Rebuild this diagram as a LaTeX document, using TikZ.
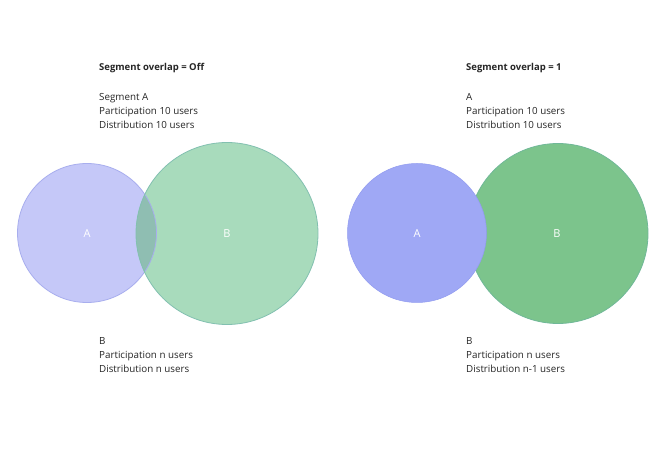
\documentclass[tikz,border=0pt]{standalone}
\usepackage{fontspec}
\setmainfont{Open Sans}
\begin{document}
\begin{tikzpicture}[x=1pt,y=-1pt,
  txt/.style={anchor=base west,inner sep=0pt,font=\fontsize{9.8}{14}\selectfont,text=black!85},
  ttl/.style={txt,font=\fontsize{9.5}{14}\selectfont\bfseries},
  lbl/.style={inner sep=0pt,font=\fontsize{11}{13}\selectfont,text=white}]
\definecolor{lAfill}{RGB}{197,200,248}
\definecolor{lAline}{RGB}{168,174,238}
\definecolor{lBfill}{RGB}{168,219,188}
\definecolor{lBline}{RGB}{130,192,176}
\definecolor{lOver}{RGB}{143,190,178}
\definecolor{rAfill}{RGB}{159,168,245}
\definecolor{rAline}{RGB}{145,155,240}
\definecolor{rBfill}{RGB}{124,196,140}
\definecolor{rBline}{RGB}{112,184,152}
\useasboundingbox[fill=white] (0,0) rectangle (670,454);
% left diagram
\fill[lAfill] (87,233) circle[radius=69.5];
\fill[lBfill] (227,233.5) circle[radius=91];
\begin{scope}
\clip (87,233) circle[radius=69.5];
\fill[lOver] (227,233.5) circle[radius=91];
\end{scope}
\draw[lAline,line width=0.8pt] (87,233) circle[radius=69.5];
\draw[lBline,line width=0.8pt] (227,233.5) circle[radius=91];
\node[lbl] (la) at (87,234) {A};
\node[lbl] (lb) at (227,234) {B};
% right diagram
\fill[rBfill] (558,233.5) circle[radius=90];
\draw[rBline,line width=0.8pt] (558,233.5) circle[radius=90];
\fill[rAfill] (417,233) circle[radius=69.5];
\draw[rAline,line width=0.5pt] (417,233) circle[radius=69.5];
\node[lbl] (ra) at (417,234) {A};
\node[lbl] (rb) at (557,234) {B};
% left texts
\node[ttl] (lt) at (99,70.5) {Segment overlap = Off};
\node[txt] (lt1) at (99,100.5) {Segment A};
\node[txt] (lt2) at (99,114.5) {Participation 10 users};
\node[txt] (lt3) at (99,128.5) {Distribution 10 users};
\node[txt] (lb1) at (99,344.5) {B};
\node[txt] (lb2) at (99,358.5) {Participation n users};
\node[txt] (lb3) at (99,372.5) {Distribution n users};
% right texts
\node[ttl] (rt) at (466,70.5) {Segment overlap = 1};
\node[txt] (rt1) at (466,100.5) {A};
\node[txt] (rt2) at (466,114.5) {Participation 10 users};
\node[txt] (rt3) at (466,128.5) {Distribution 10 users};
\node[txt] (rb1) at (466,344.5) {B};
\node[txt] (rb2) at (466,358.5) {Participation n users};
\node[txt] (rb3) at (466,372.5) {Distribution n-1 users};
\end{tikzpicture}
\end{document}
